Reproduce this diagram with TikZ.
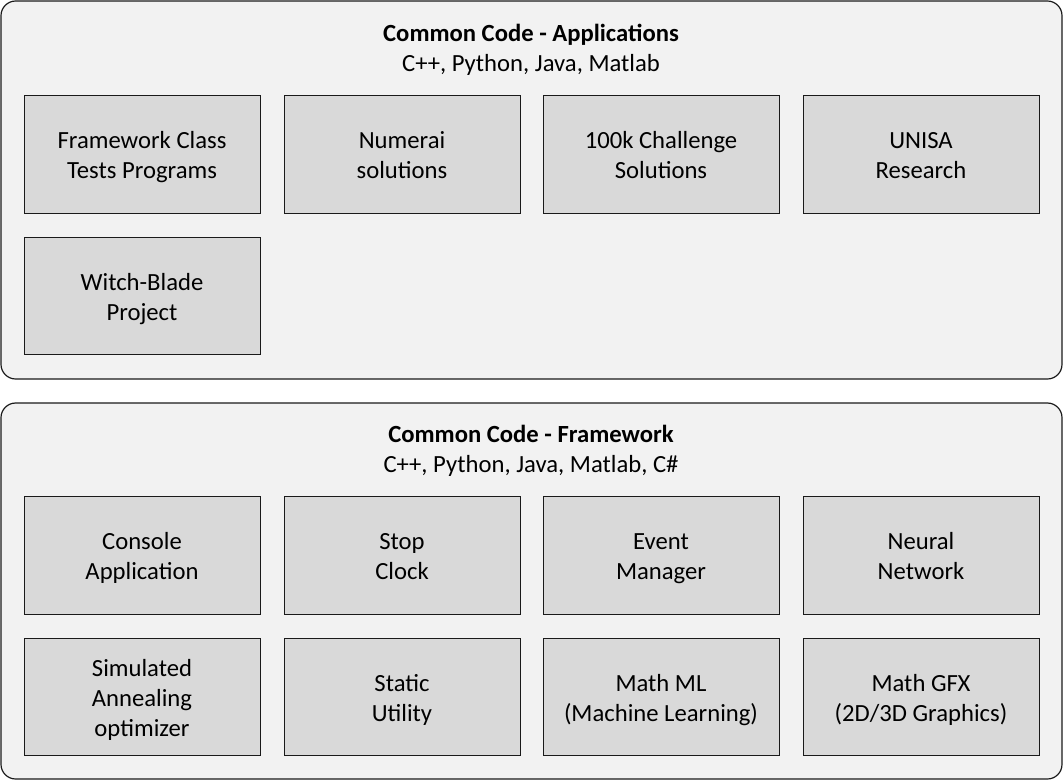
\documentclass[tikz,border=0pt]{standalone}
\usepackage{fontspec}
\setmainfont{Carlito}
\definecolor{panelfill}{HTML}{F2F2F2}
\definecolor{cellfill}{HTML}{D9D9D9}
\definecolor{edge}{HTML}{1A1A1A}
% line strut for cell text: taller above the baseline than the default strut
\newcommand{\cs}{\rule[-0.2\baselineskip]{0pt}{\baselineskip}}
\begin{document}
\begin{tikzpicture}[x=0.75pt,y=-0.75pt,
  panel/.style={draw=edge,line width=0.9pt,fill=panelfill,rounded corners=11pt},
  cell/.style={draw=edge,line width=0.75pt,fill=cellfill,minimum width=177pt,minimum height=88pt,
    inner sep=0pt,align=center,font=\fontsize{18.5}{22.5}\selectfont},
  heading/.style={align=center,font=\fontsize{18.5}{22.5}\selectfont}]
\useasboundingbox (0,0) rectangle (1064,782);
% panels
\draw[panel] (1,1) rectangle (1062,379);
\draw[panel] (1,403) rectangle (1062,779);
\node[heading] (apptitle) at (531,50) {\strut\textbf{Common Code - Applications}\\\strut C++, Python, Java, Matlab};
\node[heading] (fwtitle) at (531,451) {\strut\textbf{Common Code - Framework}\\\strut C++, Python, Java, Matlab, C\#};
% application cells
\node[cell] (a1) at (142,154.5) {\cs Framework Class\\\cs Tests Programs};
\node[cell] (a2) at (402,154.5) {\cs Numerai\\\cs solutions};
\node[cell] (a3) at (661,154.5) {\cs 100k Challenge\\\cs Solutions};
\node[cell] (a4) at (921,154.5) {\cs UNISA\\\cs Research};
\node[cell] (a5) at (142,296) {\cs Witch-Blade\\\cs Project};
% framework cells
\node[cell] (f1) at (142,555.5) {\cs Console\\\cs Application};
\node[cell] (f2) at (402,555.5) {\cs Stop\\\cs Clock};
\node[cell] (f3) at (661,555.5) {\cs Event\\\cs Manager};
\node[cell] (f4) at (921,555.5) {\cs Neural\\\cs Network};
\node[cell] (f5) at (142,697) {\cs Simulated\\\cs Annealing\\\cs optimizer};
\node[cell] (f6) at (402,697) {\cs Static\\\cs Utility};
\node[cell] (f7) at (661,697) {\cs Math ML\\\cs (Machine Learning)};
\node[cell] (f8) at (921,697) {\cs Math GFX\\\cs (2D/3D Graphics)};
\end{tikzpicture}
\end{document}
